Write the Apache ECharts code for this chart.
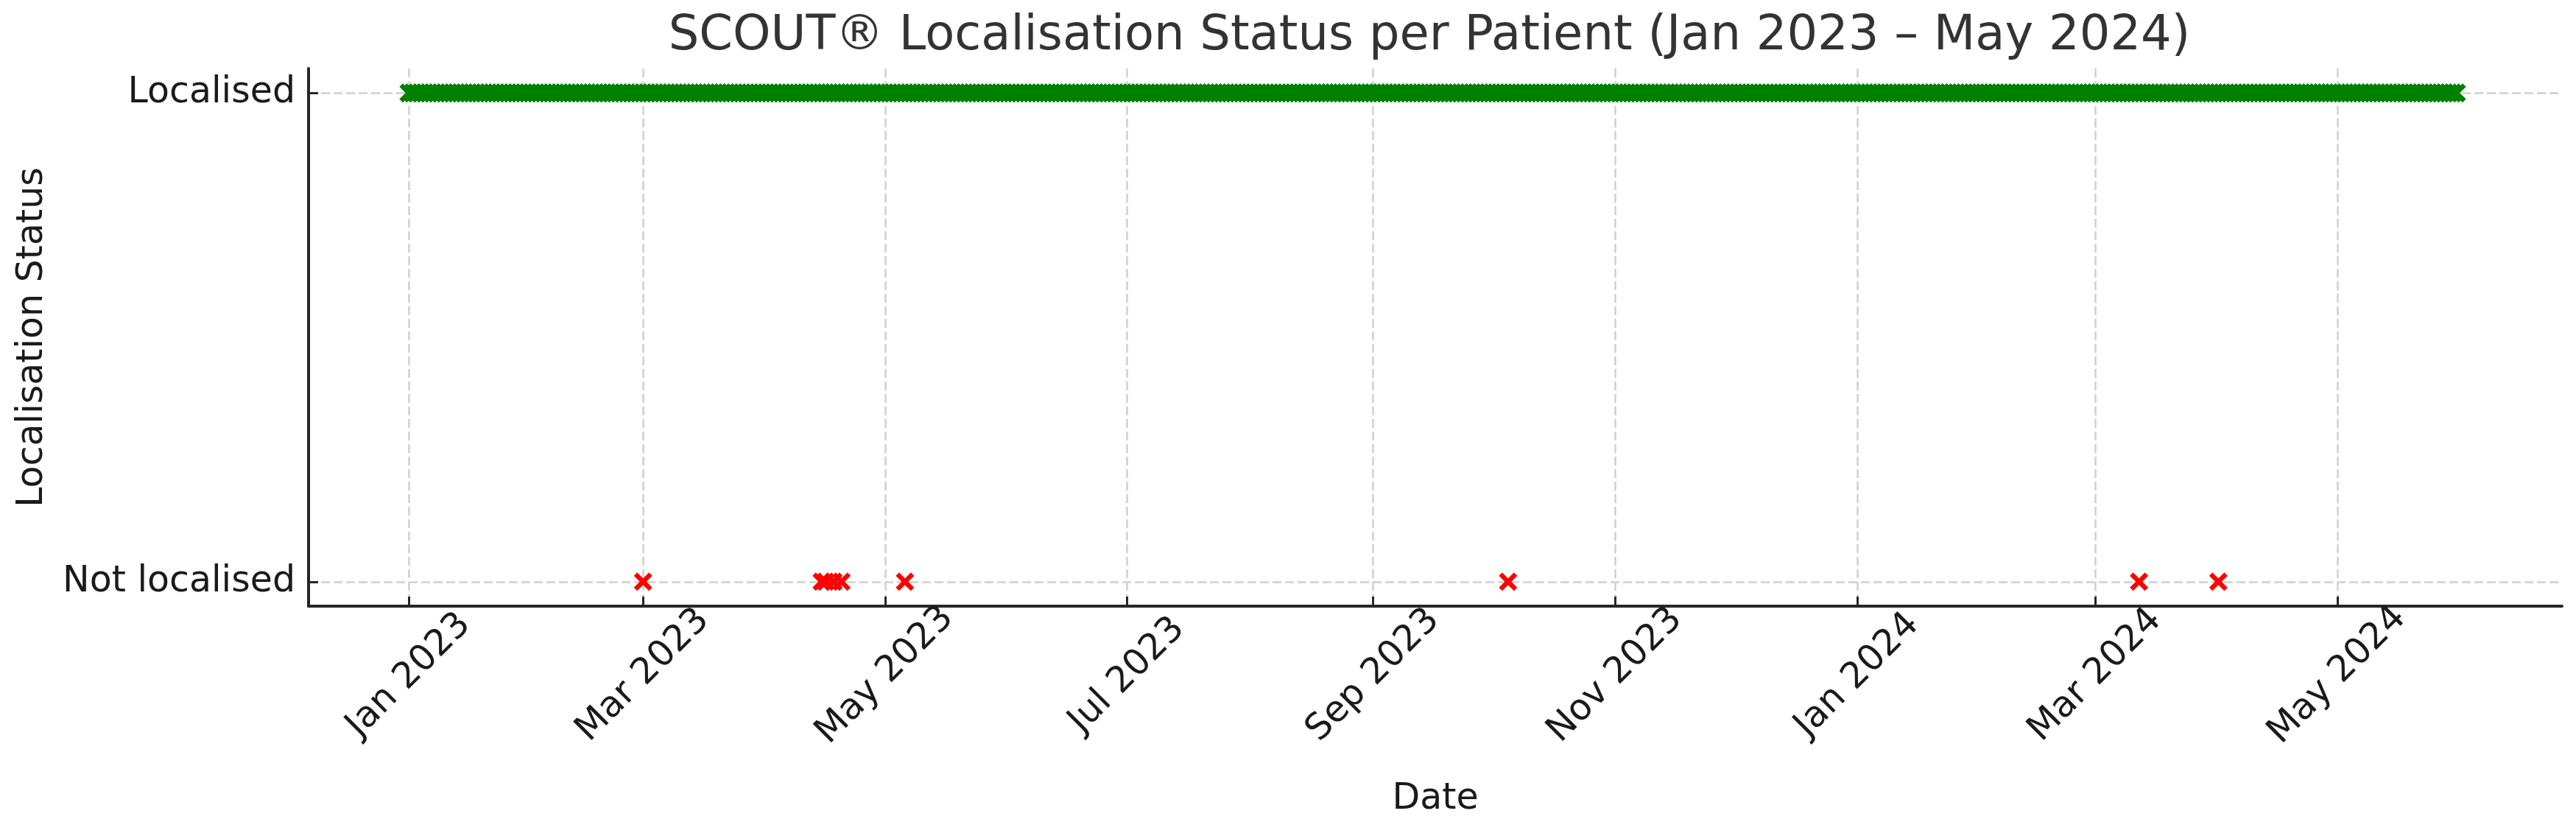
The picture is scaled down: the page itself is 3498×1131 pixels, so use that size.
<!DOCTYPE html>
<html>
<head>
<meta charset="utf-8">
<script src="https://cdn.jsdelivr.net/npm/echarts@6/dist/echarts.min.js"></script>
<style>
html,body{margin:0;padding:0;background:#fff;}
#chart{width:3498px;height:1131px;}
</style>
</head>
<body>
<div id="chart"></div>
<script>
const titleText = 'SCOUT® Localisation Status per Patient (Jan 2023 – May 2024)';
const xAxisName = 'Date';
const yAxisName = 'Localisation Status';
const statusLabels = ['Not localised', 'Localised'];
const monthNames = ['Jan','Feb','Mar','Apr','May','Jun','Jul','Aug','Sep','Oct','Nov','Dec'];
const xTickDates = ['2023-01-01','2023-03-01','2023-05-01','2023-07-01','2023-09-01','2023-11-01','2024-01-01','2024-03-01','2024-05-01'];

const localisedDates = [
'2023-01-01','2023-01-02','2023-01-03','2023-01-04','2023-01-05','2023-01-06','2023-01-07','2023-01-08','2023-01-09','2023-01-10','2023-01-11','2023-01-12','2023-01-13','2023-01-14','2023-01-15','2023-01-16','2023-01-17','2023-01-18','2023-01-19','2023-01-20','2023-01-21','2023-01-22','2023-01-23','2023-01-24','2023-01-25','2023-01-26','2023-01-27','2023-01-28','2023-01-29','2023-01-30','2023-01-31',
'2023-02-01','2023-02-02','2023-02-03','2023-02-04','2023-02-05','2023-02-06','2023-02-07','2023-02-08','2023-02-09','2023-02-10','2023-02-11','2023-02-12','2023-02-13','2023-02-14','2023-02-15','2023-02-16','2023-02-17','2023-02-18','2023-02-19','2023-02-20','2023-02-21','2023-02-22','2023-02-23','2023-02-24','2023-02-25','2023-02-26','2023-02-27','2023-02-28',
'2023-03-01','2023-03-02','2023-03-03','2023-03-04','2023-03-05','2023-03-06','2023-03-07','2023-03-08','2023-03-09','2023-03-10','2023-03-11','2023-03-12','2023-03-13','2023-03-14','2023-03-15','2023-03-16','2023-03-17','2023-03-18','2023-03-19','2023-03-20','2023-03-21','2023-03-22','2023-03-23','2023-03-24','2023-03-25','2023-03-26','2023-03-27','2023-03-28','2023-03-29','2023-03-30','2023-03-31',
'2023-04-01','2023-04-02','2023-04-03','2023-04-04','2023-04-05','2023-04-06','2023-04-07','2023-04-08','2023-04-09','2023-04-10','2023-04-11','2023-04-12','2023-04-13','2023-04-14','2023-04-15','2023-04-16','2023-04-17','2023-04-18','2023-04-19','2023-04-20','2023-04-21','2023-04-22','2023-04-23','2023-04-24','2023-04-25','2023-04-26','2023-04-27','2023-04-28','2023-04-29','2023-04-30',
'2023-05-01','2023-05-02','2023-05-03','2023-05-04','2023-05-05','2023-05-06','2023-05-07','2023-05-08','2023-05-09','2023-05-10','2023-05-11','2023-05-12','2023-05-13','2023-05-14','2023-05-15','2023-05-16','2023-05-17','2023-05-18','2023-05-19','2023-05-20','2023-05-21','2023-05-22','2023-05-23','2023-05-24','2023-05-25','2023-05-26','2023-05-27','2023-05-28','2023-05-29','2023-05-30','2023-05-31',
'2023-06-01','2023-06-02','2023-06-03','2023-06-04','2023-06-05','2023-06-06','2023-06-07','2023-06-08','2023-06-09','2023-06-10','2023-06-11','2023-06-12','2023-06-13','2023-06-14','2023-06-15','2023-06-16','2023-06-17','2023-06-18','2023-06-19','2023-06-20','2023-06-21','2023-06-22','2023-06-23','2023-06-24','2023-06-25','2023-06-26','2023-06-27','2023-06-28','2023-06-29','2023-06-30',
'2023-07-01','2023-07-02','2023-07-03','2023-07-04','2023-07-05','2023-07-06','2023-07-07','2023-07-08','2023-07-09','2023-07-10','2023-07-11','2023-07-12','2023-07-13','2023-07-14','2023-07-15','2023-07-16','2023-07-17','2023-07-18','2023-07-19','2023-07-20','2023-07-21','2023-07-22','2023-07-23','2023-07-24','2023-07-25','2023-07-26','2023-07-27','2023-07-28','2023-07-29','2023-07-30','2023-07-31',
'2023-08-01','2023-08-02','2023-08-03','2023-08-04','2023-08-05','2023-08-06','2023-08-07','2023-08-08','2023-08-09','2023-08-10','2023-08-11','2023-08-12','2023-08-13','2023-08-14','2023-08-15','2023-08-16','2023-08-17','2023-08-18','2023-08-19','2023-08-20','2023-08-21','2023-08-22','2023-08-23','2023-08-24','2023-08-25','2023-08-26','2023-08-27','2023-08-28','2023-08-29','2023-08-30','2023-08-31',
'2023-09-01','2023-09-02','2023-09-03','2023-09-04','2023-09-05','2023-09-06','2023-09-07','2023-09-08','2023-09-09','2023-09-10','2023-09-11','2023-09-12','2023-09-13','2023-09-14','2023-09-15','2023-09-16','2023-09-17','2023-09-18','2023-09-19','2023-09-20','2023-09-21','2023-09-22','2023-09-23','2023-09-24','2023-09-25','2023-09-26','2023-09-27','2023-09-28','2023-09-29','2023-09-30',
'2023-10-01','2023-10-02','2023-10-03','2023-10-04','2023-10-05','2023-10-06','2023-10-07','2023-10-08','2023-10-09','2023-10-10','2023-10-11','2023-10-12','2023-10-13','2023-10-14','2023-10-15','2023-10-16','2023-10-17','2023-10-18','2023-10-19','2023-10-20','2023-10-21','2023-10-22','2023-10-23','2023-10-24','2023-10-25','2023-10-26','2023-10-27','2023-10-28','2023-10-29','2023-10-30','2023-10-31',
'2023-11-01','2023-11-02','2023-11-03','2023-11-04','2023-11-05','2023-11-06','2023-11-07','2023-11-08','2023-11-09','2023-11-10','2023-11-11','2023-11-12','2023-11-13','2023-11-14','2023-11-15','2023-11-16','2023-11-17','2023-11-18','2023-11-19','2023-11-20','2023-11-21','2023-11-22','2023-11-23','2023-11-24','2023-11-25','2023-11-26','2023-11-27','2023-11-28','2023-11-29','2023-11-30',
'2023-12-01','2023-12-02','2023-12-03','2023-12-04','2023-12-05','2023-12-06','2023-12-07','2023-12-08','2023-12-09','2023-12-10','2023-12-11','2023-12-12','2023-12-13','2023-12-14','2023-12-15','2023-12-16','2023-12-17','2023-12-18','2023-12-19','2023-12-20','2023-12-21','2023-12-22','2023-12-23','2023-12-24','2023-12-25','2023-12-26','2023-12-27','2023-12-28','2023-12-29','2023-12-30','2023-12-31',
'2024-01-01','2024-01-02','2024-01-03','2024-01-04','2024-01-05','2024-01-06','2024-01-07','2024-01-08','2024-01-09','2024-01-10','2024-01-11','2024-01-12','2024-01-13','2024-01-14','2024-01-15','2024-01-16','2024-01-17','2024-01-18','2024-01-19','2024-01-20','2024-01-21','2024-01-22','2024-01-23','2024-01-24','2024-01-25','2024-01-26','2024-01-27','2024-01-28','2024-01-29','2024-01-30','2024-01-31',
'2024-02-01','2024-02-02','2024-02-03','2024-02-04','2024-02-05','2024-02-06','2024-02-07','2024-02-08','2024-02-09','2024-02-10','2024-02-11','2024-02-12','2024-02-13','2024-02-14','2024-02-15','2024-02-16','2024-02-17','2024-02-18','2024-02-19','2024-02-20','2024-02-21','2024-02-22','2024-02-23','2024-02-24','2024-02-25','2024-02-26','2024-02-27','2024-02-28','2024-02-29',
'2024-03-01','2024-03-02','2024-03-03','2024-03-04','2024-03-05','2024-03-06','2024-03-07','2024-03-08','2024-03-09','2024-03-10','2024-03-11','2024-03-12','2024-03-13','2024-03-14','2024-03-15','2024-03-16','2024-03-17','2024-03-18','2024-03-19','2024-03-20','2024-03-21','2024-03-22','2024-03-23','2024-03-24','2024-03-25','2024-03-26','2024-03-27','2024-03-28','2024-03-29','2024-03-30','2024-03-31',
'2024-04-01','2024-04-02','2024-04-03','2024-04-04','2024-04-05','2024-04-06','2024-04-07','2024-04-08','2024-04-09','2024-04-10','2024-04-11','2024-04-12','2024-04-13','2024-04-14','2024-04-15','2024-04-16','2024-04-17','2024-04-18','2024-04-19','2024-04-20','2024-04-21','2024-04-22','2024-04-23','2024-04-24','2024-04-25','2024-04-26','2024-04-27','2024-04-28','2024-04-29','2024-04-30',
'2024-05-01','2024-05-02','2024-05-03','2024-05-04','2024-05-05','2024-05-06','2024-05-07','2024-05-08','2024-05-09','2024-05-10','2024-05-11','2024-05-12','2024-05-13','2024-05-14','2024-05-15','2024-05-16','2024-05-17','2024-05-18','2024-05-19','2024-05-20','2024-05-21','2024-05-22','2024-05-23','2024-05-24','2024-05-25','2024-05-26','2024-05-27','2024-05-28','2024-05-29','2024-05-30','2024-05-31'
];

const notLocalisedDates = ['2023-03-01','2023-04-15','2023-04-16','2023-04-18','2023-04-20','2023-05-06','2023-10-05','2024-03-12','2024-04-01'];

const DAY = 86400000;
function ts(s){ return Date.parse(s + 'T00:00:00Z'); }
const xMin = ts('2023-01-01') - 25.3 * DAY;
const xMax = ts('2023-01-01') + 542.6 * DAY;

const xSymbol = 'path://M0,18 L18,0 L50,32 L82,0 L100,18 L68,50 L100,82 L82,100 L50,68 L18,100 L0,82 L32,50 Z';
const FONT = 'DejaVu Sans';

const chart = echarts.init(document.getElementById('chart'), null, {renderer: 'canvas'});
chart.setOption({
  animation: false,
  backgroundColor: '#ffffff',
  graphic: [{
    type: 'text', x: 1941, y: 50,
    style: { text: titleText, font: '65.5px "DejaVu Sans"', fill: '#333333', align: 'center', verticalAlign: 'middle' }
  }],
  grid: { left: 419, right: 19, top: 93, bottom: 308, containLabel: false },
  xAxis: {
    type: 'value',
    min: xMin, max: xMax,
    name: xAxisName, nameLocation: 'middle', nameGap: 238,
    nameTextStyle: { fontFamily: FONT, fontSize: 49, color: '#1a1a1a' },
    axisLine: { show: true, onZero: false, lineStyle: { color: '#262626', width: 4 } },
    axisTick: { show: true, inside: true, length: 13, lineStyle: { color: '#262626', width: 3 }, customValues: xTickDates.map(ts) },
    axisLabel: {
      customValues: xTickDates.map(ts),
      rotate: 45, align: 'center', verticalAlign: 'middle', margin: 94,
      fontFamily: FONT, fontSize: 49, color: '#1a1a1a',
      formatter: function (v) { const d = new Date(v); return monthNames[d.getUTCMonth()] + ' ' + d.getUTCFullYear(); }
    },
    splitLine: { show: true, lineStyle: { color: '#d0d0d0', width: 2.5, type: [12, 5] } }
  },
  yAxis: {
    type: 'value',
    min: -0.05, max: 1.05,
    name: yAxisName, nameLocation: 'middle', nameGap: 350,
    nameTextStyle: { fontFamily: FONT, fontSize: 49, color: '#1a1a1a' },
    axisLine: { show: true, onZero: false, lineStyle: { color: '#262626', width: 4 } },
    axisTick: { show: true, inside: true, length: 13, lineStyle: { color: '#262626', width: 3 }, customValues: [0, 1] },
    axisLabel: {
      customValues: [0, 1], margin: 18,
      fontFamily: FONT, fontSize: 49, color: '#1a1a1a',
      formatter: function (v) { return statusLabels[Math.round(v)]; }
    },
    splitLine: { show: true, lineStyle: { color: '#d0d0d0', width: 2.5, type: [12, 5] } }
  },
  series: [
    {
      name: 'Localised', type: 'scatter',
      symbol: xSymbol, symbolSize: 26,
      itemStyle: { color: '#008000', opacity: 1 },
      data: localisedDates.map(function (d) { return [ts(d), 1]; }),
      z: 3
    },
    {
      name: 'Not localised', type: 'scatter',
      symbol: xSymbol, symbolSize: 25,
      itemStyle: { color: '#ff0000', opacity: 1 },
      data: notLocalisedDates.map(function (d) { return [ts(d), 0]; }),
      z: 4
    }
  ]
});
</script>
</body>
</html>
